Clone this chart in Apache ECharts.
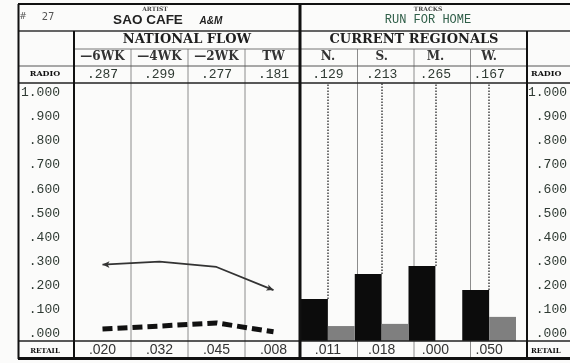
<!DOCTYPE html>
<html>
<head>
<meta charset="utf-8">
<script src="https://cdn.jsdelivr.net/npm/echarts@6/dist/echarts.min.js"></script>
<style>
  html, body { margin: 0; padding: 0; background: #fbfbfa; }
  #chart { width: 570px; height: 363px; }
</style>
</head>
<body>
<div id="chart"></div>
<script>
  // national flow
  const flowWeeks = ['—6WK', '—4WK', '—2WK', 'TW'];
  const flowRadio = [0.287, 0.299, 0.277, 0.181];
  const flowRetail = [0.020, 0.032, 0.045, 0.008];

  // current regionals
  const regions = ['N.', 'S.', 'M.', 'W.'];
  const regionRadio = [0.129, 0.213, 0.265, 0.167];
  const regionRetail = [0.011, 0.018, 0.000, 0.050];
  // bar heights as printed, measured up from the bottom rule (scale units)
  const regionRadioBar = [0.174, 0.278, 0.311, 0.212];
  const regionRetailBar = [0.062, 0.071, 0, 0.100];

  const scaleTicks = [0, 0.1, 0.2, 0.3, 0.4, 0.5, 0.6, 0.7, 0.8, 0.9, 1.0];

  const fmt = v => v >= 1 ? v.toFixed(3) : v.toFixed(3).replace(/^0/, '');

  // table layout
  const plotTop = 83, plotH = 258;
  const nat = {left: 74, width: 228};
  const reg = {left: 301, width: 226};
  const serif = 'DejaVu Serif';
  const mono = 'Liberation Mono';
  const ink = '#2f3a33';

  const hline = (y, x1, x2, w, c, z) => ({
    type: 'line', z: z || 50, silent: true,
    shape: {x1: x1, y1: y, x2: x2, y2: y}, style: {stroke: c, lineWidth: w}
  });
  const vline = (x, y1, y2, w, c, z) => ({
    type: 'line', z: z || 50, silent: true,
    shape: {x1: x, y1: y1, x2: x, y2: y2}, style: {stroke: c, lineWidth: w}
  });
  const text = (t, x, y, font, fill, align) => ({
    type: 'text', z: 60, silent: true,
    style: {text: t, x: x, y: y, font: font, fill: fill || ink, align: align || 'center', verticalAlign: 'middle'}
  });

  const graphics = [
    hline(4, 18, 570, 2, '#111'),
    hline(31, 18, 570, 1.5, '#333'),
    hline(49, 74, 527, 1, '#777'),
    hline(66, 18, 570, 1, '#555'),
    hline(83, 18, 570, 1.5, '#222'),
    hline(341, 18, 570, 1.5, '#222'),
    hline(358.5, 18, 570, 3, '#111'),
    vline(18.5, 4, 359, 2, '#111'),
    vline(74, 31, 359, 2, '#111'),
    vline(300, 4, 359, 3, '#111'),
    vline(527, 31, 359, 2, '#111'),
    text('#', 23, 17, '9px "DejaVu Sans"', '#555'),
    text('27', 48, 17, '10px "DejaVu Sans"', '#555'),
    text('ARTIST', 155, 9, 'bold 6px "DejaVu Serif"', '#444'),
    text('SAO CAFE', 148, 20, 'bold 13.5px "Liberation Sans"', '#222'),
    text('A&M', 211, 21, 'italic bold 10px "Liberation Sans"', '#222'),
    text('TRACKS', 428, 9, 'bold 6px "DejaVu Serif"', '#444'),
    text('RUN FOR HOME', 428, 20, '12px "Liberation Mono"', '#2f5e48'),
    text('NATIONAL FLOW', 187, 40, 'bold 13px "DejaVu Serif"', '#1e1e1e'),
    text('CURRENT REGIONALS', 414, 40, 'bold 13px "DejaVu Serif"', '#1e1e1e'),
    text('RADIO', 45, 74, 'bold 8px "DejaVu Serif"', '#111'),
    text('RETAIL', 45, 351, 'bold 7px "DejaVu Serif"', '#111'),
    text('RADIO', 531, 74, 'bold 8px "DejaVu Serif"', '#111', 'left'),
    text('RETAIL', 531, 351, 'bold 7px "DejaVu Serif"', '#111', 'left')
  ];
  // column rules follow the category bands
  [1, 2, 3].forEach(k => {
    graphics.push(vline(nat.left + nat.width * k / 4, 49, 358, 1, '#8c8c8c', 1));
    graphics.push(vline(reg.left + reg.width * k / 4, 49, 358, 1, '#8c8c8c', 1));
  });

  const labelAxis = (grid, data, position, margin, family, size, weight, color) => ({
    gridIndex: grid, type: 'category', data: data, position: position,
    axisLine: {show: false, onZero: false}, axisTick: {show: false}, splitLine: {show: false},
    axisLabel: {
      margin: margin, verticalAlign: 'middle', interval: 0,
      fontFamily: family, fontSize: size, fontWeight: weight, color: color || ink
    }
  });

  const scaleAxis = (grid, position, margin) => ({
    gridIndex: grid, type: 'value', position: position, min: -0.03, max: 1.04,
    axisLine: {show: false}, axisTick: {show: false}, splitLine: {show: false},
    axisLabel: {
      customValues: scaleTicks, formatter: fmt, margin: margin, align: 'right',
      fontFamily: mono, fontSize: 13, color: ink
    }
  });

  const option = {
    animation: false,
    backgroundColor: '#fbfbfa',
    grid: [
      {left: nat.left, top: plotTop, width: nat.width, height: plotH},
      {left: reg.left, top: plotTop, width: reg.width, height: plotH}
    ],
    xAxis: [
      labelAxis(0, flowWeeks, 'top', 26, serif, 12, 'bold', '#333'),
      labelAxis(0, flowRadio.map(fmt), 'top', 8, mono, 13, 'normal'),
      labelAxis(0, flowRetail.map(fmt), 'bottom', 9, 'Liberation Sans', 14, 'normal', '#333'),
      labelAxis(1, regions, 'top', 26, serif, 12, 'bold', '#333'),
      labelAxis(1, regionRadio.map(fmt), 'top', 8, mono, 13, 'normal'),
      labelAxis(1, regionRetail.map(fmt), 'bottom', 9, 'Liberation Sans', 14, 'normal', '#333')
    ],
    yAxis: [
      scaleAxis(0, 'left', 14),
      {gridIndex: 1, type: 'value', min: 0, max: 1.07, show: false},
      scaleAxis(1, 'right', 51)
    ],
    graphic: graphics,
    series: [
      {
        type: 'line', xAxisIndex: 0, yAxisIndex: 0, symbol: 'none',
        lineStyle: {color: '#333', width: 1.8},
        data: flowRadio.map((v, i) => {
          if (i === 0) return {value: v, symbol: 'arrow', symbolSize: [5, 7], symbolRotate: 90};
          if (i === flowRadio.length - 1) return {value: v, symbol: 'arrow', symbolSize: [5, 7], symbolRotate: -112};
          return v;
        }),
        itemStyle: {color: '#333'}
      },
      {
        type: 'line', xAxisIndex: 0, yAxisIndex: 0, symbol: 'none',
        lineStyle: {color: '#111', width: 5, type: [10, 5]},
        data: flowRetail
      },
      {
        type: 'bar', xAxisIndex: 3, yAxisIndex: 1,
        barGap: '0%', barCategoryGap: '0%',
        itemStyle: {color: '#0c0c0c'},
        data: regionRadioBar
      },
      {
        type: 'bar', xAxisIndex: 3, yAxisIndex: 1,
        barGap: '0%', barCategoryGap: '0%',
        itemStyle: {color: '#7f7f7f'},
        data: regionRetailBar
      },
      {
        // dotted guide from the bar top up to the head of the plot, at the band centre
        type: 'scatter', xAxisIndex: 3, yAxisIndex: 1, symbolSize: 0, silent: true,
        data: regionRadioBar,
        markLine: {
          silent: true, symbol: ['none', 'none'], label: {show: false},
          lineStyle: {color: '#444', width: 1.5, type: 'dotted'},
          data: regions.map((r, i) => [{coord: [r, regionRadioBar[i]]}, {coord: [r, 1.07]}])
        }
      }
    ]
  };

  echarts.init(document.getElementById('chart')).setOption(option);
</script>
</body>
</html>
